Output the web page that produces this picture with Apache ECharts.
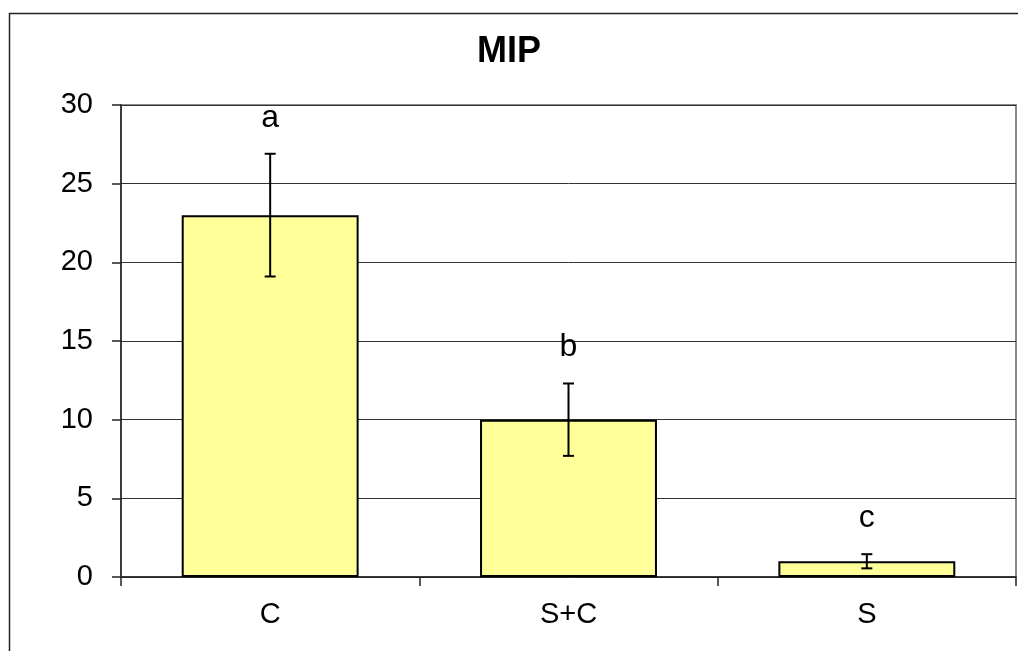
<!DOCTYPE html>
<html>
<head>
<meta charset="utf-8">
<title>MIP</title>
<script src="https://cdn.jsdelivr.net/npm/echarts@6/dist/echarts.min.js"></script>
<style>
  html, body { margin: 0; padding: 0; background: #fff; }
  #chart { width: 1018px; height: 651px; }
</style>
</head>
<body>
<div id="chart"></div>
<script>
// Treatment groups, mean values, error half-widths and significance letters
const categories = ['C', 'S+C', 'S'];
const means = [23, 10, 1];
const errors = [3.9, 2.3, 0.45];
const letters = ['a', 'b', 'c'];
const yTicks = { min: 0, max: 30, interval: 5 };

const FONT = '"Liberation Sans", Arial, sans-serif';

const chart = echarts.init(document.getElementById('chart'), null, { renderer: 'canvas' });

const errorData = categories.map((c, i) => [i, means[i], errors[i]]);

chart.setOption({
  animation: false,
  backgroundColor: '#ffffff',
  title: {
    text: 'MIP',
    left: 'center',
    top: 29,
    textStyle: { fontFamily: FONT, fontSize: 36, fontWeight: 'bold', color: '#000' }
  },
  graphic: [{
    type: 'rect',
    silent: true,
    shape: { x: 9.5, y: 13.5, width: 2000, height: 2000 },
    style: { fill: 'none', stroke: '#222', lineWidth: 1.5 }
  }],
  grid: {
    left: 121, right: 2, top: 105, bottom: 74,
    show: true,
    borderColor: '#8a8a8a',
    borderWidth: 2,
    backgroundColor: 'transparent'
  },
  xAxis: {
    type: 'category',
    data: categories,
    boundaryGap: true,
    axisLine: { lineStyle: { color: '#222', width: 1.5 } },
    axisTick: { show: true, length: 9, inside: false, lineStyle: { color: '#222', width: 1.5 } },
    axisLabel: { margin: 23, fontFamily: FONT, fontSize: 29, color: '#000' },
    splitLine: { show: false }
  },
  yAxis: {
    type: 'value',
    min: yTicks.min, max: yTicks.max, interval: yTicks.interval,
    axisLine: { show: true, lineStyle: { color: '#222', width: 1.5 } },
    axisTick: { show: true, length: 9, lineStyle: { color: '#222', width: 1.5 } },
    axisLabel: { margin: 28, fontFamily: FONT, fontSize: 29, color: '#000' },
    splitLine: { show: true, lineStyle: { color: '#333', width: 1 } }
  },
  series: [
    {
      type: 'bar',
      data: means,
      barWidth: '59.3%',
      itemStyle: { color: '#FFFF99', borderColor: '#000', borderWidth: 2 },
      z: 2
    },
    {
      type: 'custom',
      data: errorData,
      z: 5,
      renderItem: function (params, api) {
        const idx = api.value(0);
        const m = api.value(1);
        const e = api.value(2);
        const letter = letters[params.dataIndex];
        const top = api.coord([idx, m + e]);
        const bot = api.coord([idx, m - e]);
        const cap = 5.5;
        const stroke = { stroke: '#000', lineWidth: 2 };
        return {
          type: 'group',
          children: [
            { type: 'line', shape: { x1: top[0], y1: top[1], x2: bot[0], y2: bot[1] }, style: stroke },
            { type: 'line', shape: { x1: top[0] - cap, y1: top[1], x2: top[0] + cap, y2: top[1] }, style: stroke },
            { type: 'line', shape: { x1: bot[0] - cap, y1: bot[1], x2: bot[0] + cap, y2: bot[1] }, style: stroke },
            {
              type: 'text',
              style: {
                text: letter,
                x: top[0],
                y: top[1] - 36,
                textAlign: 'center',
                textVerticalAlign: 'middle',
                font: '32px ' + FONT,
                fill: '#000'
              }
            }
          ]
        };
      }
    }
  ]
});
</script>
</body>
</html>
